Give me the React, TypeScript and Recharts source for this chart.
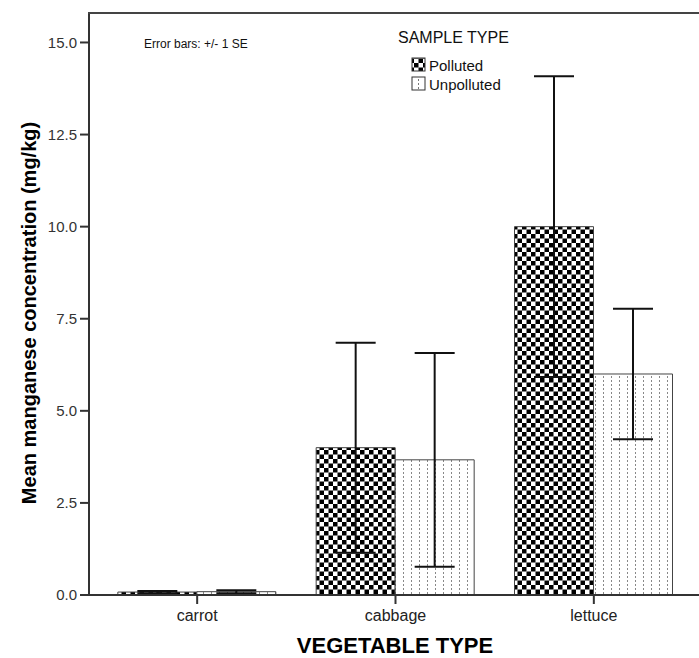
import React from "react";
import { BarChart, Bar, XAxis, YAxis, ErrorBar } from "recharts";

const categories = ["carrot", "cabbage", "lettuce"];
const pollutedMeans = [0.08, 4.0, 10.0];
const pollutedSE = [0.03, 2.85, 4.08];
const unpollutedMeans = [0.09, 3.67, 6.0];
const unpollutedSE = [0.04, 2.9, 1.77];
const yTicks = [0, 2.5, 5, 7.5, 10, 12.5, 15];

const data = categories.map((name, i) => ({
  name,
  polluted: pollutedMeans[i],
  pollutedErr: pollutedSE[i],
  unpolluted: unpollutedMeans[i],
  unpollutedErr: unpollutedSE[i],
}));

const FONT = "'Liberation Sans', Arial, sans-serif";

export default function App() {
  return (
    <div style={{ position: "relative", width: 699, height: 658, fontFamily: FONT, background: "#fff" }}>
      <style>{`body{margin:0}`}</style>
      <svg width={0} height={0} style={{ position: "absolute" }}>
        <defs>
          <pattern id="checker" patternUnits="userSpaceOnUse" width={9} height={9}>
            <rect width={9} height={9} fill="#fff" />
            <rect x={0} y={0} width={4.5} height={4.5} fill="#000" />
            <rect x={4.5} y={4.5} width={4.5} height={4.5} fill="#000" />
          </pattern>
          <pattern id="dotted" patternUnits="userSpaceOnUse" width={8} height={4}>
            <rect width={8} height={4} fill="#fff" />
            <rect x={3} y={0} width={1} height={2} fill="#888" />
          </pattern>
        </defs>
      </svg>
      <BarChart
        width={699}
        height={658}
        data={data}
        margin={{ top: 13, right: 0, bottom: 23, left: 0 }}
        barCategoryGap="10%"
        barGap={0}
      >
        <XAxis
          dataKey="name"
          height={40}
          padding={{ left: 9, right: 6 }}
          tickSize={9}
          tickMargin={6}
          axisLine={{ stroke: "#333", strokeWidth: 2 }}
          tickLine={{ stroke: "#333", strokeWidth: 2 }}
          tick={{ fill: "#222", fontSize: 16, fontFamily: FONT }}
        />
        <YAxis
          width={89}
          domain={[0, 15.8]}
          ticks={yTicks}
          tickFormatter={(v: number) => v.toFixed(1)}
          tickSize={9}
          tickMargin={3}
          axisLine={{ stroke: "#333", strokeWidth: 2 }}
          tickLine={{ stroke: "#333", strokeWidth: 2 }}
          tick={{ fill: "#333", fontSize: 15, fontFamily: FONT }}
        />
        <Bar dataKey="polluted" fill="url(#checker)" stroke="#444" strokeWidth={1} isAnimationActive={false}>
          <ErrorBar dataKey="pollutedErr" width={20} stroke="#111" strokeWidth={2} direction="y" />
        </Bar>
        <Bar dataKey="unpolluted" fill="url(#dotted)" stroke="#444" strokeWidth={1} isAnimationActive={false}>
          <ErrorBar dataKey="unpollutedErr" width={20} stroke="#111" strokeWidth={2} direction="y" />
        </Bar>
      </BarChart>
      <svg
        width={699}
        height={658}
        style={{ position: "absolute", left: 0, top: 0, pointerEvents: "none" }}
      >
        <line x1={88} y1={13} x2={699} y2={13} stroke="#444" strokeWidth={2} />
        <text x={144} y={48} fontSize={12} fill="#111" fontFamily={FONT}>
          Error bars: +/- 1 SE
        </text>
        <text x={398} y={43} fontSize={16} fill="#111" fontFamily={FONT}>
          SAMPLE TYPE
        </text>
        <rect x={412} y={58} width={13} height={13} fill="url(#checker)" stroke="#333" strokeWidth={1} />
        <text x={429} y={71} fontSize={15} fill="#111" fontFamily={FONT}>
          Polluted
        </text>
        <rect x={412} y={77} width={13} height={13} fill="#fff" stroke="#333" strokeWidth={1} />
        <line x1={418.5} y1={79} x2={418.5} y2={89} stroke="#777" strokeWidth={1} strokeDasharray="2 2" />
        <text x={429} y={90} fontSize={15} fill="#111" fontFamily={FONT}>
          Unpolluted
        </text>
        <text
          x={36}
          y={313}
          transform="rotate(-90 36 313)"
          textAnchor="middle"
          fontSize={20}
          fontWeight="bold"
          fill="#000"
          fontFamily={FONT}
        >
          Mean manganese concentration (mg/kg)
        </text>
        <text x={395} y={653} textAnchor="middle" fontSize={22} fontWeight="bold" fill="#000" fontFamily={FONT}>
          VEGETABLE TYPE
        </text>
      </svg>
    </div>
  );
}
